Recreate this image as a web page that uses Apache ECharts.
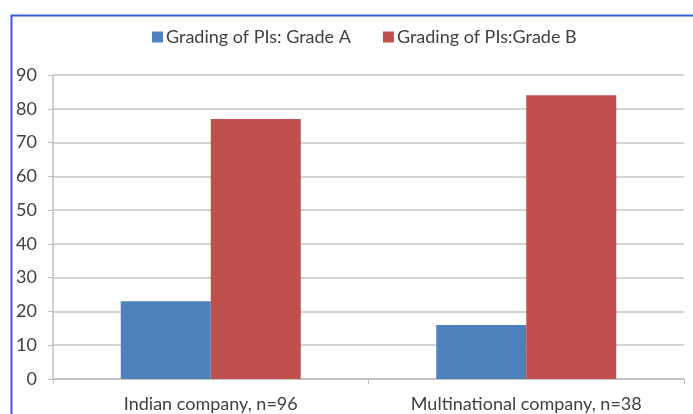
<!DOCTYPE html>
<html>
<head>
<meta charset="utf-8">
<script src="https://cdn.jsdelivr.net/npm/echarts@6/dist/echarts.min.js"></script>
<style>html,body{margin:0;padding:0;background:#fff}#c{width:693px;height:414px}</style>
</head>
<body>
<div id="c"></div>
<script>
const categories = ['Indian company, n=96', 'Multinational company, n=38'];
const seriesNames = ['Grading of PIs: Grade A', 'Grading of PIs:Grade B'];
const gradeA = [23, 16];
const gradeB = [77, 84];
const yTicks = [0, 10, 20, 30, 40, 50, 60, 70, 80, 90];

const chart = echarts.init(document.getElementById('c'));
const font = 'Lato, "Open Sans", sans-serif';
chart.setOption({
  animation: false,
  backgroundColor: '#fff',
  graphic: [{
    type: 'rect', left: 9, top: 13, shape: { width: 720, height: 440 },
    style: { fill: 'none', stroke: '#3a5bd9', lineWidth: 2 }, z: 100
  }],
  legend: {
    top: 23, left: 147, itemWidth: 11, itemHeight: 11, itemGap: 32,
    icon: 'rect',
    textStyle: { fontFamily: font, fontSize: 18, color: '#404040', padding: [0, 0, 0, -2] },
    data: seriesNames
  },
  grid: { left: 53, right: 9, top: 75, bottom: 35, containLabel: false },
  xAxis: {
    type: 'category', data: categories,
    axisLine: { lineStyle: { color: '#bfbfbf', width: 1.5 } },
    axisTick: { show: true, length: 5, lineStyle: { color: '#bfbfbf' } },
    axisLabel: { fontFamily: font, fontSize: 18, color: '#404040', margin: 16 }
  },
  yAxis: {
    type: 'value', min: yTicks[0], max: yTicks[yTicks.length - 1], interval: 10,
    axisLine: { show: true, lineStyle: { color: '#bfbfbf', width: 1.5 } },
    axisTick: { show: true, length: 5, lineStyle: { color: '#bfbfbf' } },
    splitLine: { lineStyle: { color: '#c4c4c4', width: 1.5 } },
    axisLabel: { fontFamily: font, fontSize: 18, color: '#404040', margin: 16 }
  },
  series: [
    { name: seriesNames[0], type: 'bar', data: gradeA, barWidth: 90, barGap: '0%',
      itemStyle: { color: '#4F81BD' } },
    { name: seriesNames[1], type: 'bar', data: gradeB, barWidth: 90, barGap: '0%',
      itemStyle: { color: '#C0504D' } }
  ]
});
</script>
</body>
</html>
